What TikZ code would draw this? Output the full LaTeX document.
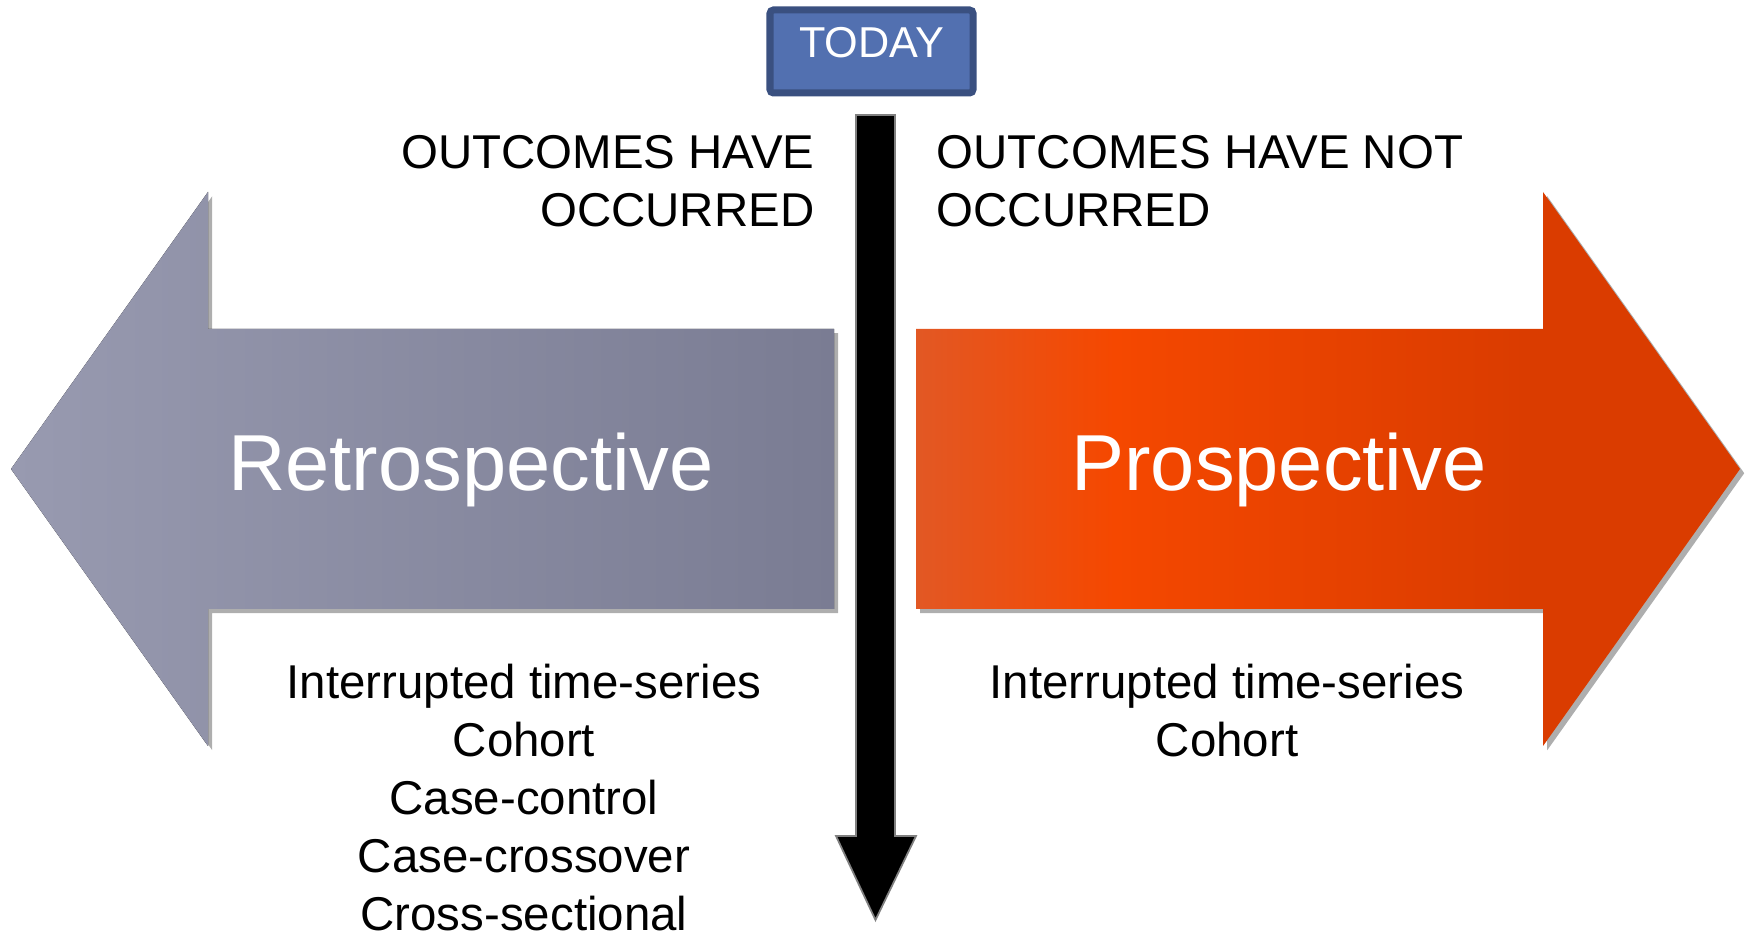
\documentclass[tikz,border=0pt]{standalone}
\usepackage{fontspec}
\setmainfont{Liberation Sans}
\usepackage{tikz}
\usetikzlibrary{shadows}
\usepackage{xcolor}
\definecolor{retroleft}{RGB}{152,154,176}
\definecolor{retroright}{RGB}{122,124,147}
\definecolor{prosleft}{RGB}{226,88,36}
\definecolor{prosmid}{RGB}{245,72,0}
\definecolor{prosright}{RGB}{218,60,0}
\definecolor{todayfill}{RGB}{82,112,176}
\definecolor{todayline}{RGB}{58,80,128}
\pgfdeclarehorizontalshading{prosshade}{100bp}{color(0bp)=(prosleft); color(25bp)=(prosleft);
  color(37bp)=(prosmid); color(62bp)=(prosright); color(100bp)=(prosright)}

\tikzset{
  bodytext/.style={font=\fontsize{13.5}{16.5}\selectfont, inner sep=0pt},
  bigtext/.style={font=\fontsize{22.6}{26}\selectfont, text=white, inner sep=0pt},
  arrowshadow/.style={drop shadow={shadow xshift=1.2pt, shadow yshift=-1.2pt, opacity=0.45, fill=black!70}}
}

\begin{document}
\begin{tikzpicture}
\useasboundingbox (0,0) rectangle (17.47,9.33);

% Retrospective arrow
\fill[arrowshadow, left color=retroleft, right color=retroright]
  (0.11,4.64) -- (2.08,7.41) -- (2.08,6.04) -- (8.34,6.04)
  -- (8.34,3.24) -- (2.08,3.24) -- (2.08,1.87) -- cycle;
\node[bigtext] (retro) at (4.71,4.63) {Retrospective};

% Prospective arrow
\shade[arrowshadow, shading=prosshade]
  (17.40,4.64) -- (15.43,7.41) -- (15.43,6.04) -- (9.16,6.04)
  -- (9.16,3.24) -- (15.43,3.24) -- (15.43,1.87) -- cycle;
\node[bigtext] (pros) at (12.79,4.63) {Prospective};

% Time line
\fill[black, draw=gray, line width=0.5pt]
  (8.56,8.18) -- (8.95,8.18) -- (8.95,0.97) -- (9.16,0.97)
  -- (8.755,0.13) -- (8.36,0.97) -- (8.56,0.97) -- cycle;

% Today
\node[draw=todayline, fill=todayfill, line width=2pt, rounded corners=1pt,
  minimum width=2.03cm, minimum height=0.83cm, text=white,
  text height=0.31cm, text depth=0.18cm,
  font=\fontsize{12.3}{14}\selectfont] (today) at (8.715,8.815) {TODAY};

% Outcomes
\node[bodytext, align=right, anchor=east] (past) at (8.15,7.52)
  {OUTCOMES HAVE\\OCCURRED};
\node[bodytext, align=left, anchor=west] (future) at (9.36,7.52)
  {OUTCOMES HAVE NOT\\OCCURRED};

% Designs
\node[bodytext, align=center] (retrolist) at (5.24,1.35)
  {Interrupted time-series\\Cohort\\Case-control\\Case-crossover\\Cross-sectional};
\node[bodytext, align=center] (proslist) at (12.27,2.22)
  {Interrupted time-series\\Cohort};
\end{tikzpicture}
\end{document}
